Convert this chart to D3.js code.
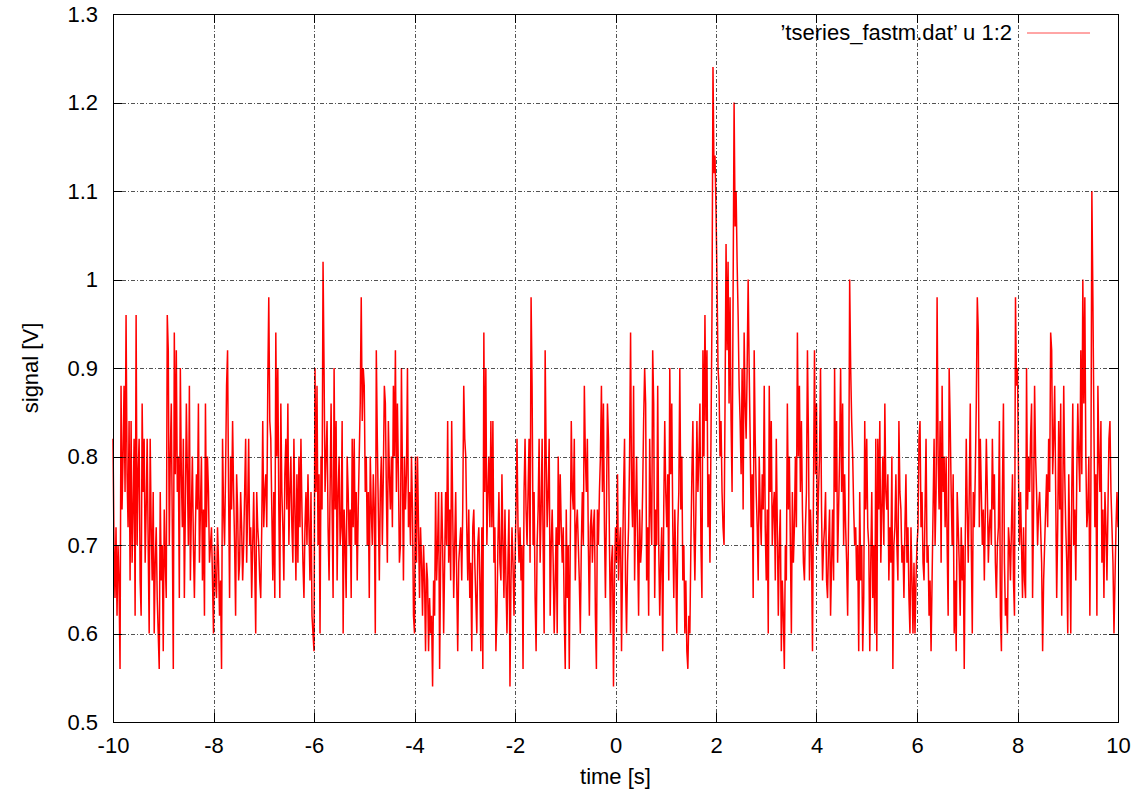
<!DOCTYPE html>
<html><head><meta charset="utf-8">
<script src="https://cdn.jsdelivr.net/npm/d3@7"></script>
<style>
body{margin:0;background:#fff}
svg{display:block}
text{font-family:"Liberation Sans",Arial,Helvetica,sans-serif;fill:#000}
</style>
</head><body>
<svg id="chart" width="1143" height="797"></svg>
<script>
// ---- data ----
const tStart = -10;
const tStep = 0.02;
const signal = [
.82,.7,.64,.72,.62,.7,.66,.56,.88,.74,
.8,.88,.76,.96,.78,.72,.84,.66,.84,.68,
.74,.82,.62,.96,.7,.78,.82,.66,.62,.86,
.76,.82,.68,.74,.82,.7,.6,.82,.72,.66,
.76,.6,.68,.72,.64,.6,.56,.76,.66,.7,
.58,.74,.68,.64,.96,.92,.7,.8,.86,.72,
.56,.94,.78,.92,.76,.8,.64,.9,.78,.72,
.82,.64,.74,.86,.78,.7,.88,.66,.74,.8,
.7,.64,.72,.78,.74,.86,.68,.74,.8,.66,
.74,.62,.86,.72,.8,.76,.68,.7,.72,.66,
.6,.7,.66,.64,.72,.68,.62,.66,.56,.82,
.74,.7,.78,.88,.92,.76,.64,.8,.74,.84,
.76,.7,.62,.78,.74,.66,.68,.76,.72,.66,
.7,.76,.82,.68,.74,.82,.7,.72,.64,.7,
.76,.68,.6,.76,.72,.7,.66,.64,.72,.84,
.72,.76,.78,.72,.88,.98,.84,.82,.74,.66,
.76,.64,.94,.8,.9,.74,.64,.86,.76,.72,
.66,.78,.82,.74,.86,.7,.76,.8,.72,.68,
.82,.74,.66,.78,.68,.8,.72,.82,.74,.68,
.64,.72,.76,.7,.78,.72,.66,.76,.62,.6,
.58,.9,.76,.88,.7,.78,.6,.8,.74,1.02,
.9,.76,.8,.84,.72,.66,.76,.86,.74,.64,
.9,.74,.84,.66,.76,.8,.7,.72,.84,.6,
.74,.7,.64,.8,.76,.7,.74,.64,.82,.72,
.82,.7,.76,.66,.74,.8,.86,.98,.84,.9,
.88,.76,.8,.7,.76,.64,.8,.74,.7,.78,
.74,.6,.92,.82,.74,.66,.76,.8,.7,.78,
.88,.86,.76,.68,.84,.78,.74,.8,.72,.88,
.8,.92,.76,.86,.78,.68,.7,.9,.78,.66,
.8,.74,.78,.9,.72,.76,.7,.8,.74,.62,
.6,.8,.68,.8,.72,.64,.72,.68,.62,.7,
.66,.58,.68,.66,.58,.64,.6,.62,.54,.66,
.62,.76,.66,.7,.76,.56,.68,.76,.7,.6,
.68,.76,.7,.84,.68,.74,.66,.84,.74,.64,
.7,.76,.66,.58,.68,.7,.72,.66,.74,.88,
.82,.8,.72,.66,.74,.64,.68,.58,.72,.74,
.68,.64,.6,.7,.72,.66,.58,.72,.56,.94,
.76,.9,.7,.76,.8,.72,.84,.72,.84,.68,
.72,.58,.62,.7,.76,.68,.66,.78,.7,.64,
.74,.66,.6,.68,.74,.54,.66,.72,.68,.62,
.68,.74,.82,.72,.68,.72,.66,.7,.56,.76,
.82,.74,.7,.76,.82,.68,.98,.88,.7,.76,
.64,.58,.7,.74,.82,.68,.74,.82,.7,.6,
.92,.8,.72,.76,.82,.62,.7,.74,.68,.6,
.66,.72,.6,.8,.7,.78,.72,.68,.72,.62,
.56,.74,.64,.7,.56,.7,.84,.76,.74,.82,
.66,.72,.74,.7,.66,.6,.7,.76,.7,.88,
.8,.76,.82,.7,.62,.72,.74,.68,.72,.74,
.62,.56,.74,.7,.76,.8,.88,.76,.86,.72,
.64,.74,.86,.82,.7,.6,.68,.7,.54,.66,
.72,.68,.78,.66,.7,.72,.58,.68,.76,.82,
.66,.6,.68,.72,.8,.94,.76,.72,.88,.66,
.74,.8,.7,.62,.74,.68,.7,.76,.84,.9,
.86,.66,.72,.62,.82,.74,.7,.92,.86,.64,
.74,.7,.88,.7,.62,.68,.72,.58,.74,.84,
.76,.72,.78,.66,.9,.78,.86,.72,.64,.74,
.68,.6,.72,.76,.9,.74,.8,.66,.7,.6,
.66,.58,.56,.62,.6,.7,.78,.84,.72,.66,
.74,.84,.76,.8,.86,.7,.64,.92,.8,.96,
.84,.92,.72,.78,.68,.82,.96,1.24,1.12,1.14,
1.08,1,.9,.88,.8,.84,.76,.72,.7,.86,
1.04,.92,1.02,.86,.98,.84,.76,.98,1.2,1.06,
1.1,1.02,.96,.88,.84,.78,.9,.74,.94,.86,
.82,.9,1,.9,.82,.72,.78,.64,.92,.82,
.76,.72,.66,.8,.74,.7,.78,.74,.88,.72,
.66,.74,.6,.88,.76,.84,.7,.74,.76,.66,
.82,.72,.62,.7,.74,.58,.66,.62,.56,.7,
.66,.86,.74,.8,.7,.6,.76,.68,.72,.8,
.72,.94,.8,.88,.76,.84,.74,.68,.66,.72,
.76,.92,.82,.66,.74,.7,.58,.76,.92,.78,
.86,.7,.76,.8,.9,.74,.66,.7,.72,.76,
.66,.64,.7,.74,.62,.68,.74,.66,.9,.76,
.84,.68,.74,.8,.9,.76,.86,.7,.78,.72,
.68,.62,.74,1,.9,.84,.8,.74,.7,.72,
.66,.7,.58,.76,.66,.7,.58,.64,.84,.74,
.82,.72,.7,.58,.68,.76,.64,.7,.6,.82,
.58,.82,.74,.84,.68,.74,.8,.7,.86,.76,
.74,.78,.66,.72,.68,.8,.56,.7,.72,.78,
.7,.66,.84,.76,.74,.68,.7,.64,.72,.78,
.68,.72,.64,.6,.72,.66,.6,.68,.6,.66,
.7,.72,.82,.84,.72,.76,.68,.66,.74,.82,
.68,.7,.62,.66,.58,.66,.74,.82,.7,.76,
.98,.8,.74,.84,.68,.88,.76,.8,.72,.8,
.7,.62,.9,.84,.76,.7,.78,.6,.66,.58,
.76,.72,.68,.62,.72,.66,.7,.56,.7,.82,
.74,.68,.76,.86,.7,.6,.76,.72,.78,.86,
.98,.94,.72,.82,.76,.7,.74,.66,.74,.82,
.76,.68,.72,.74,.7,.82,.74,.78,.68,.64,
.7,.72,.84,.62,.58,.76,.86,.68,.62,.64,
.6,.72,.7,.66,.72,.78,.66,.62,.98,.88,
.9,.78,.7,.76,.7,.64,.72,.66,.64,.9,
.74,.8,.76,.82,.86,.64,.74,.88,.8,.76,
.7,.74,.76,.72,.68,.58,.66,.7,.74,.78,
.72,.82,.76,.94,.92,.78,.82,.88,.76,.64,
.72,.84,.74,.86,.62,.74,.88,.78,.72,.68,
.6,.78,.7,.6,.76,.86,.7,.74,.66,.78,
.86,.8,.76,.92,.78,1,.86,.98,.8,.72,
.74,.8,.62,.76,1.1,.98,.84,.72,.78,.62,
.88,.8,.76,.84,.68,.74,.64,.76,.72,.66,
.74,.82,.84,.76,.72,.68,.6,.66,.72,.76,
.72
];
const xTicks = [-10,-8,-6,-4,-2,0,2,4,6,8,10];
const xTickLabels = ["-10","-8","-6","-4","-2","0","2","4","6","8","10"];
const yTicks = [0.5,0.6,0.7,0.8,0.9,1.0,1.1,1.2,1.3];
const yTickLabels = ["0.5","0.6","0.7","0.8","0.9","1","1.1","1.2","1.3"];
const xTitle = "time [s]";
const yTitle = "signal [V]";
const seriesLabel = "\u2019tseries_fastm.dat\u2019 u 1:2";

// ---- layout ----
const L = 113, R = 1118, T = 14, B = 722;
const svg = d3.select("#chart");
const x = d3.scaleLinear().domain([-10, 10]).range([L, R]);
const y = d3.scaleLinear().domain([0.5, 1.3]).range([B, T]);

const points = signal.map((v, i) => [tStart + i * tStep, v]);

// data line
svg.append("path")
  .datum(points)
  .attr("fill", "none")
  .attr("stroke", "#ff0000")
  .attr("stroke-width", 1.5)
  .attr("stroke-linejoin", "miter")
  .attr("d", d3.line().x(d => x(d[0])).y(d => y(d[1])));

// grid (front, gnuplot style)
const grid = svg.append("g")
  .attr("stroke", "#000")
  .attr("stroke-width", 0.8)
  .attr("stroke-dasharray", "4,2,1,2")
  .attr("stroke-opacity", 0.85);
grid.selectAll(".gx").data(xTicks.slice(1, -1)).enter().append("line")
  .attr("x1", d => Math.round(x(d)) + 0.5).attr("x2", d => Math.round(x(d)) + 0.5)
  .attr("y1", B).attr("y2", T);
grid.selectAll(".gy").data(yTicks.slice(1, -1)).enter().append("line")
  .attr("y1", d => Math.round(y(d)) + 0.5).attr("y2", d => Math.round(y(d)) + 0.5)
  .attr("x1", L).attr("x2", R);

// tick marks (inward, mirrored)
const tk = 9;
const ticks = svg.append("g").attr("stroke", "#000").attr("stroke-width", 1);
xTicks.forEach(d => {
  const px = Math.round(x(d)) + 0.5;
  ticks.append("line").attr("x1", px).attr("x2", px).attr("y1", B).attr("y2", B - tk);
  ticks.append("line").attr("x1", px).attr("x2", px).attr("y1", T).attr("y2", T + tk);
});
yTicks.forEach(d => {
  const py = Math.round(y(d)) + 0.5;
  ticks.append("line").attr("y1", py).attr("y2", py).attr("x1", L).attr("x2", L + tk);
  ticks.append("line").attr("y1", py).attr("y2", py).attr("x1", R).attr("x2", R - tk);
});

// border
svg.append("rect")
  .attr("x", L + 0.5).attr("y", T + 0.5)
  .attr("width", R - L).attr("height", B - T)
  .attr("fill", "none").attr("stroke", "#000").attr("stroke-width", 1);

// axes labels via d3 axes
const fs = 22;
const xAxis = svg.append("g").attr("transform", `translate(0,${B})`)
  .call(d3.axisBottom(x).tickValues(xTicks).tickFormat((d, i) => xTickLabels[i]).tickSize(0).tickPadding(15));
xAxis.select(".domain").remove();
xAxis.selectAll("text").attr("font-size", fs).attr("font-family", "Liberation Sans, Arial, sans-serif").attr("fill", "#000");

const yAxis = svg.append("g").attr("transform", `translate(${L},0)`)
  .call(d3.axisLeft(y).tickValues(yTicks).tickFormat((d, i) => yTickLabels[i]).tickSize(0).tickPadding(15));
yAxis.select(".domain").remove();
yAxis.selectAll("text").attr("font-size", fs).attr("font-family", "Liberation Sans, Arial, sans-serif").attr("fill", "#000");

// titles
svg.append("text").attr("x", (L + R) / 2).attr("y", 784)
  .attr("text-anchor", "middle").attr("font-size", fs).text(xTitle);
svg.append("text").attr("transform", `translate(38,${(T + B) / 2}) rotate(-90)`)
  .attr("text-anchor", "middle").attr("font-size", fs).text(yTitle);

// legend
svg.append("text").attr("x", 1012).attr("y", 40)
  .attr("text-anchor", "end").attr("font-size", fs).text(seriesLabel);
svg.append("line").attr("x1", 1027).attr("x2", 1090).attr("y1", 33).attr("y2", 33)
  .attr("stroke", "#ff0000").attr("stroke-width", 1).attr("stroke-opacity", 0.7);
</script>
</body></html>
